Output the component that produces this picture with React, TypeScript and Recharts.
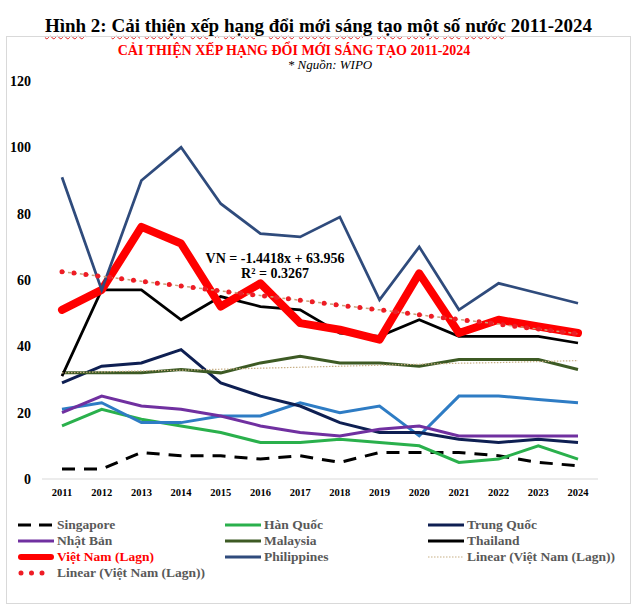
import { LineChart, Line, XAxis, YAxis, Legend } from "recharts";

const years = ["2011", "2012", "2013", "2014", "2015", "2016", "2017", "2018", "2019", "2020", "2021", "2022", "2023", "2024"];

const singapore = [3, 3, 8, 7, 7, 6, 7, 5, 8, 8, 8, 7, 5, 4];
const hanQuoc = [16, 21, 18, 16, 14, 11, 11, 12, 11, 10, 5, 6, 10, 6];
const trungQuoc = [29, 34, 35, 39, 29, 25, 22, 17, 14, 14, 12, 11, 12, 11];
const nhatBan = [20, 25, 22, 21, 19, 16, 14, 13, 15, 16, 13, 13, 13, 13];
const malaysia = [32, 32, 32, 33, 32, 35, 37, 35, 35, 34, 36, 36, 36, 33];
const thailand = [31, 57, 57, 48, 55, 52, 51, 44, 43, 48, 43, 43, 43, 41];
const vietNam = [51, 57, 76, 71, 52, 59, 47, 45, 42, 62, 44, 48, 46, 44];
const philippines = [91, 57, 90, 100, 83, 74, 73, 79, 54, 70, 51, 59, 56, 53];
// light blue line, no legend entry in the original
const uc = [21, 23, 17, 17, 19, 19, 23, 20, 22, 13, 25, 25, 24, 23];
// trendlines as drawn
const linearTan = [32.0, 32.3, 32.6, 32.8, 33.1, 33.4, 33.7, 34.0, 34.3, 34.6, 34.9, 35.1, 35.4, 35.7];
const linearVN = [62.5, 61.1, 59.6, 58.2, 56.7, 55.3, 53.9, 52.4, 51.0, 49.5, 48.1, 46.7, 45.2, 43.8];

const yTicks = [0, 20, 40, 60, 80, 100, 120];

const data = years.map((year, i) => ({
  year,
  singapore: singapore[i],
  hanQuoc: hanQuoc[i],
  trungQuoc: trungQuoc[i],
  nhatBan: nhatBan[i],
  malaysia: malaysia[i],
  thailand: thailand[i],
  vietNam: vietNam[i],
  philippines: philippines[i],
  uc: uc[i],
  linearTan: linearTan[i],
  linearVN: linearVN[i],
}));

const serif = "'Liberation Serif', 'Times New Roman', serif";

// legend order, 3 per row like the excel legend
const legendOrder = ["singapore", "hanQuoc", "trungQuoc", "nhatBan", "malaysia", "thailand", "vietNam", "philippines", "linearTan", "linearVN"];

const legendSymbols: Record<string, { stroke: string; width: number; dash?: string; cap?: "round" | "butt" }> = {
  singapore: { stroke: "#000000", width: 3, dash: "13 8" },
  hanQuoc: { stroke: "#2AB04C", width: 3 },
  trungQuoc: { stroke: "#0E1F52", width: 3 },
  nhatBan: { stroke: "#7030A0", width: 3 },
  malaysia: { stroke: "#3D5A24", width: 3 },
  thailand: { stroke: "#000000", width: 3 },
  vietNam: { stroke: "#FF0000", width: 6, cap: "round" },
  philippines: { stroke: "#2F4B7C", width: 3 },
  linearTan: { stroke: "#C7AF85", width: 1.2, dash: "1.5 1.5" },
  linearVN: { stroke: "#EE1C25", width: 5, dash: "0 10.5", cap: "round" },
};

const colLeft = [18, 225, 428];

function LegendGrid(props: any) {
  const items = (props.payload || [])
    .filter((e: any) => e.type !== "none" && legendOrder.includes(e.dataKey))
    .sort((a: any, b: any) => legendOrder.indexOf(a.dataKey) - legendOrder.indexOf(b.dataKey));
  return (
    <div style={{ position: "relative", width: 637, height: 90 }}>
      {items.map((entry: any, i: number) => {
        const row = Math.floor(i / 3);
        const col = i % 3;
        const sym = legendSymbols[entry.dataKey] || { stroke: entry.color, width: 3 };
        return (
          <div
            key={i}
            style={{
              position: "absolute",
              left: colLeft[col],
              top: 15 + row * 16 - 8,
              height: 16,
              display: "flex",
              alignItems: "center",
              whiteSpace: "nowrap",
            }}
          >
            <svg width={36} height={10} style={{ marginRight: 3 }}>
              <line
                x1={sym.cap === "round" ? 3 : 0}
                x2={sym.cap === "round" ? 33 : 36}
                y1={5}
                y2={5}
                stroke={sym.stroke}
                strokeWidth={sym.width}
                strokeDasharray={sym.dash}
                strokeLinecap={sym.cap || "butt"}
              />
            </svg>
            <span
              style={{
                fontFamily: serif,
                fontWeight: "bold",
                fontSize: 13.5,
                color: entry.dataKey === "vietNam" ? "#FF0000" : "#595959",
              }}
            >
              {entry.value}
            </span>
          </div>
        );
      })}
    </div>
  );
}

const wavy = {
  textDecoration: "underline wavy #E02020",
  textDecorationThickness: "1px",
  textUnderlineOffset: "3px",
};

function W({ children }: { children: string }) {
  return <span style={wavy}>{children}</span>;
}

export default function App() {
  return (
    <div style={{ position: "absolute", left: 0, top: 0, width: 637, height: 606, background: "#fff", overflow: "hidden" }}>
      <div
        style={{
          position: "absolute",
          top: 15,
          left: 0,
          width: 637,
          textAlign: "center",
          fontFamily: serif,
          fontWeight: "bold",
          fontSize: 19,
          lineHeight: "22px",
          whiteSpace: "nowrap",
        }}
      >
        <W>Hình</W> 2: <W>Cải</W> <W>thiện</W> <W>xếp</W> <W>hạng</W> <W>đổi</W> <W>mới</W> <W>sáng</W> <W>tạo</W>{" "}
        <W>một</W> <W>số</W> <W>nước</W> 2011-2024
      </div>
      <div
        style={{
          position: "absolute",
          left: 6,
          top: 36,
          width: 623,
          height: 566,
          border: "1px solid #D9D9D9",
        }}
      />
      <LineChart width={637} height={606} data={data} margin={{ top: 81, right: 39, left: 0, bottom: 0 }}>
        <XAxis
          dataKey="year"
          height={127}
          padding={{ left: 20, right: 20 }}
          axisLine={{ stroke: "#D9D9D9", strokeWidth: 1 }}
          tickLine={false}
          tickMargin={4}
          tick={{ fontSize: 10.5, fontWeight: "bold", fontFamily: serif, fill: "#000" }}
          interval={0}
        />
        <YAxis
          width={42}
          domain={[0, 120]}
          ticks={yTicks}
          axisLine={false}
          tickLine={false}
          tickMargin={5}
          tick={{ fontSize: 14, fontWeight: "bold", fontFamily: serif, fill: "#000" }}
        />
        <Legend
          layout="horizontal"
          verticalAlign="middle"
          align="center"
          content={LegendGrid}
          wrapperStyle={{ position: "absolute", left: 0, top: 510, width: 637, height: 90 }}
        />
        <Line dataKey="singapore" name="Singapore" stroke="#000000" strokeWidth={3} strokeDasharray="13 9" dot={false} isAnimationActive={false} />
        <Line dataKey="hanQuoc" name="Hàn Quốc" stroke="#2AB04C" strokeWidth={3} dot={false} isAnimationActive={false} />
        <Line dataKey="uc" name="uc" stroke="#2E7CC4" strokeWidth={3} dot={false} legendType="none" isAnimationActive={false} />
        <Line dataKey="trungQuoc" name="Trung Quốc" stroke="#0E1F52" strokeWidth={3} dot={false} isAnimationActive={false} />
        <Line dataKey="nhatBan" name="Nhật Bản" stroke="#7030A0" strokeWidth={3} dot={false} isAnimationActive={false} />
        <Line dataKey="malaysia" name="Malaysia" stroke="#3D5A24" strokeWidth={3} dot={false} isAnimationActive={false} />
        <Line dataKey="thailand" name="Thailand" stroke="#000000" strokeWidth={2.75} dot={false} isAnimationActive={false} />
        <Line
          dataKey="vietNam"
          name="Việt Nam (Lagn)"
          stroke="#FF0000"
          strokeWidth={8}
          strokeLinejoin="round"
          strokeLinecap="round"
          dot={false}
          isAnimationActive={false}
        />
        <Line dataKey="philippines" name="Philippines" stroke="#2F4B7C" strokeWidth={2.75} dot={false} isAnimationActive={false} />
        <Line
          dataKey="linearTan"
          name="Linear (Việt Nam (Lagn))"
          stroke="#C7AF85"
          strokeWidth={1.2}
          strokeDasharray="1.5 1.5"
          dot={false}
          isAnimationActive={false}
        />
        <Line
          dataKey="linearVN"
          name="linearVNbase"
          stroke="#C8A27A"
          strokeWidth={1.5}
          strokeDasharray="3 3"
          dot={false}
          legendType="none"
          isAnimationActive={false}
        />
        <Line
          dataKey="linearVN"
          name="Linear (Việt Nam (Lagn))"
          stroke="#EE1C25"
          strokeWidth={5}
          strokeDasharray="0 12"
          strokeLinecap="round"
          dot={false}
          isAnimationActive={false}
        />
      </LineChart>
      <div
        style={{
          position: "absolute",
          left: 294,
          top: 43,
          transform: "translateX(-50%)",
          whiteSpace: "nowrap",
          fontFamily: serif,
          fontWeight: "bold",
          fontSize: 14,
          lineHeight: "16px",
          color: "#FF0000",
        }}
      >
        CẢI THIỆN XẾP HẠNG ĐỔI MỚI SÁNG TẠO 2011-2024
      </div>
      <div
        style={{
          position: "absolute",
          left: 330,
          top: 57,
          transform: "translateX(-50%)",
          whiteSpace: "nowrap",
          fontFamily: serif,
          fontStyle: "italic",
          fontSize: 13,
          lineHeight: "15px",
          color: "#000",
        }}
      >
        * Nguồn: WIPO
      </div>
      <div
        style={{
          position: "absolute",
          left: 275,
          top: 251,
          transform: "translateX(-50%)",
          whiteSpace: "nowrap",
          textAlign: "center",
          fontFamily: serif,
          fontWeight: "bold",
          fontSize: 14,
          lineHeight: "15px",
          color: "#000",
        }}
      >
        VN = -1.4418x + 63.956
        <br />
        R² = 0.3267
      </div>
    </div>
  );
}
